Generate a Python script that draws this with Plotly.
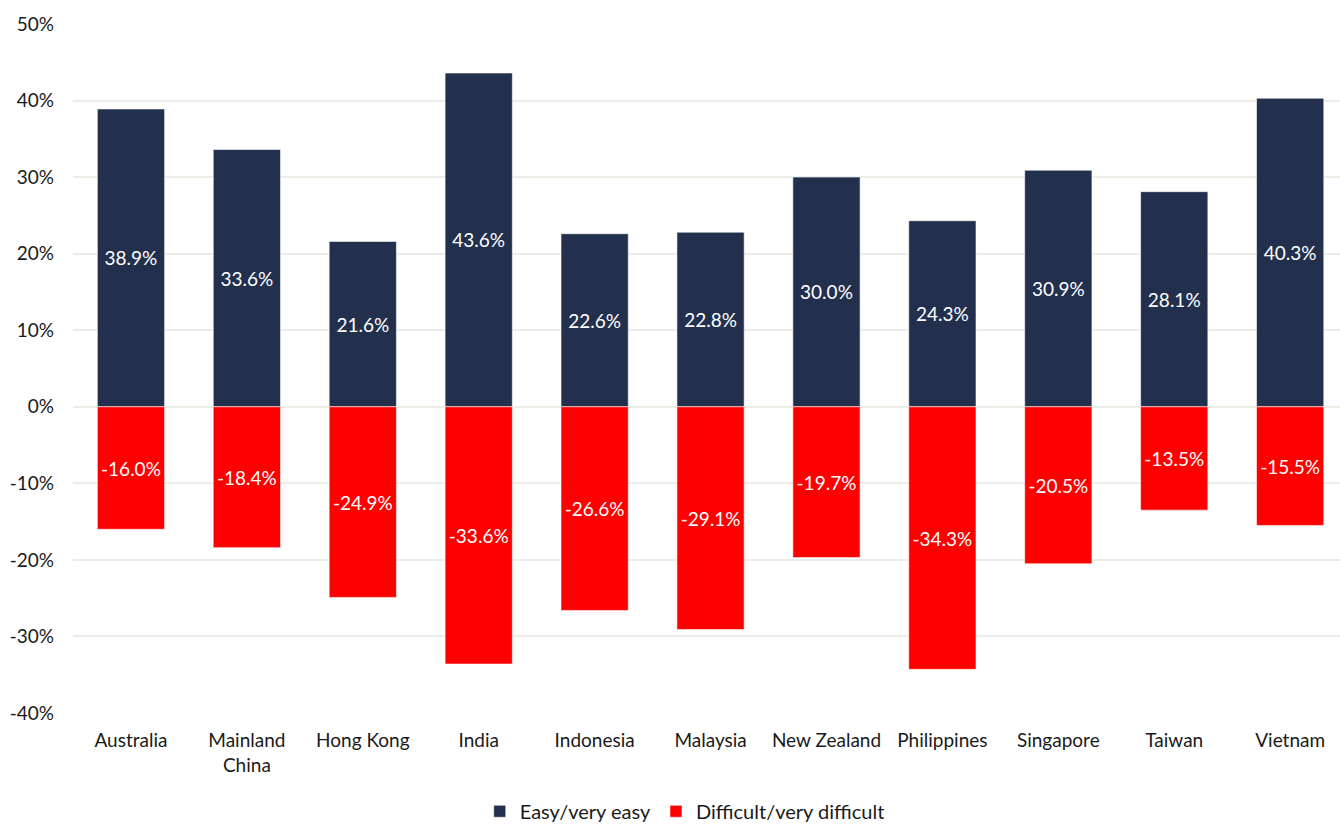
import plotly.graph_objects as go

# Survey shares by market (percent)
markets = ["Australia", "Mainland<br>China", "Hong Kong", "India", "Indonesia",
           "Malaysia", "New Zealand", "Philippines", "Singapore", "Taiwan", "Vietnam"]
easy = [38.9, 33.6, 21.6, 43.6, 22.6, 22.8, 30.0, 24.3, 30.9, 28.1, 40.3]
difficult = [-16.0, -18.4, -24.9, -33.6, -26.6, -29.1, -19.7, -34.3, -20.5, -13.5, -15.5]
y_ticks = [-40, -30, -20, -10, 0, 10, 20, 30, 40, 50]
y_tick_labels = ["-40%", "-30%", "-20%", "-10%", "0%", "10%", "20%", "30%", "40%", "50%"]

FONT = "Lato, Calibri, sans-serif"
NAVY = "#22304E"
RED = "#FF0000"
GRID = "#EDEDE7"
TXT = "#1a1a1a"

fig = go.Figure()
for name, vals, color in [("Easy/very easy", easy, NAVY),
                          ("Difficult/very difficult", difficult, RED)]:
    fig.add_trace(go.Bar(
        x=markets, y=vals, name=name,
        marker=dict(color=color, line=dict(color="rgba(255,255,255,0.55)", width=1)),
        width=0.58,
        text=[f"{v:.1f}%" for v in vals],
        textposition="inside", insidetextanchor="middle", textangle=0,
        textfont=dict(family=FONT, size=19, color="white"),
        constraintext="none",
        hoverinfo="skip",
    ))

fig.update_layout(
    barmode="relative",
    width=1340, height=827,
    margin=dict(l=73, r=0, t=24, b=114, autoexpand=False),
    paper_bgcolor="white", plot_bgcolor="white",
    font=dict(family=FONT, size=19, color=TXT),
    showlegend=True,
    legend=dict(orientation="h", xref="container", yref="container",
                x=0.511, xanchor="center", y=0.019, yanchor="middle",
                font=dict(size=20, color=TXT), traceorder="normal",
                itemwidth=30),
    uniformtext=dict(minsize=19, mode="show"),
)
fig.update_xaxes(range=[-0.5, 10.43], showgrid=False, showline=False,
                 ticks="", tickfont=dict(size=19), fixedrange=True,
                 tickangle=0, ticklabelstandoff=14)
fig.update_yaxes(range=[-40, 50], tickvals=y_ticks, ticktext=y_tick_labels,
                 showgrid=True, gridcolor=GRID, gridwidth=1.5,
                 zeroline=True, zerolinecolor=GRID, zerolinewidth=1.5,
                 showline=False, ticks="", tickfont=dict(size=19),
                 ticklabelstandoff=18, fixedrange=True)

fig.write_html("out.html")
